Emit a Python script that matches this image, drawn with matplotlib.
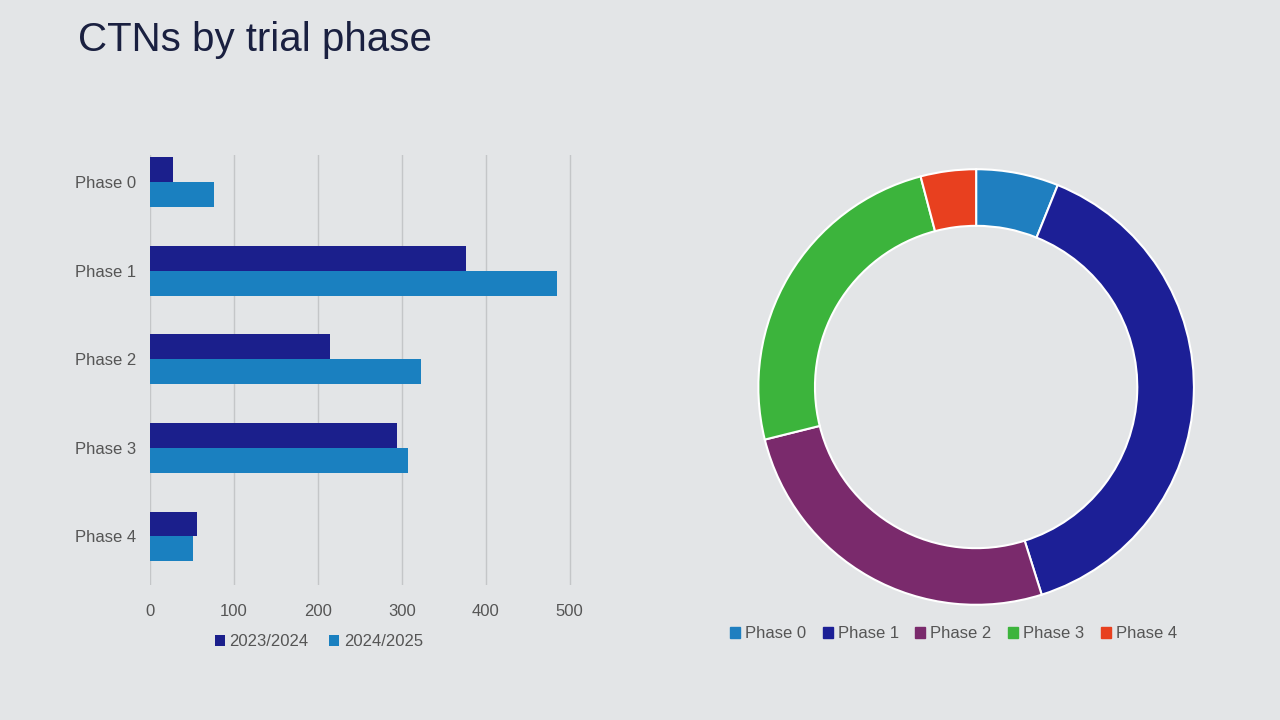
import matplotlib.pyplot as plt
import numpy as np

plt.rcParams["font.family"] = ["Liberation Sans", "DejaVu Sans"]

PHASES = ["Phase 0", "Phase 1", "Phase 2", "Phase 3", "Phase 4"]
CTN_2023_24 = [28, 377, 215, 294, 56]
CTN_2024_25 = [76, 485, 323, 308, 51]
X_TICKS = [0, 100, 200, 300, 400, 500]

BG = "#e3e5e7"
DARK = "#1b1f8c"
LIGHT = "#1a80c0"
DONUT_COLORS = ["#1f7fc0", "#1c1f96", "#7a2a6c", "#3cb43c", "#e8401f"]


def main():
    fig = plt.figure(figsize=(12.8, 7.2), dpi=100, facecolor=BG)
    fig.text(0.061, 0.944, "CTNs by trial phase", fontsize=29, color="#1a2040",
             va="center", ha="left")

    # bar chart
    ax = fig.add_axes([0.117, 0.1875, 0.33, 0.5975])
    ax.set_facecolor(BG)
    y = np.arange(len(PHASES))
    h = 0.28
    ax.barh(y - h / 2, CTN_2023_24, height=h, color=DARK, label="2023/2024")
    ax.barh(y + h / 2, CTN_2024_25, height=h, color=LIGHT, label="2024/2025")
    ax.set_xlim(0, 503)
    ax.set_ylim(4.55, -0.31)
    ax.set_xticks(X_TICKS)
    ax.set_yticks(y)
    ax.set_yticklabels(PHASES)
    ax.xaxis.grid(True, color="#c4c6c8", linewidth=1)
    ax.set_axisbelow(True)
    for s in ax.spines.values():
        s.set_visible(False)
    ax.tick_params(length=0, labelsize=12, colors="#555555", pad=10)
    ax.tick_params(axis="x", pad=14)
    ax.legend(loc="upper center", bbox_to_anchor=(0.4, -0.08), ncol=2, frameon=False,
              fontsize=12, labelcolor="#555555", handlelength=0.6, handleheight=0.6,
              handletextpad=0.3, columnspacing=1.2)

    # donut
    ax2 = fig.add_axes([0.5906, 0.157, 0.344, 0.611])
    ax2.set_facecolor(BG)
    wedges, _ = ax2.pie(CTN_2024_25, colors=DONUT_COLORS, startangle=90, counterclock=False,
                        wedgeprops=dict(width=0.26, edgecolor="white", linewidth=1.5))
    ax2.set_xlim(-1.01, 1.01)
    ax2.set_ylim(-1.01, 1.01)
    ax2.set_aspect("equal")
    handles = [plt.Rectangle((0, 0), 1, 1, color=c) for c in DONUT_COLORS]
    fig.legend(handles, PHASES, loc="center", bbox_to_anchor=(0.745, 0.12), ncol=5,
               frameon=False, fontsize=12, labelcolor="#555555", handlelength=0.6,
               handleheight=0.6, handletextpad=0.3, columnspacing=1.0)

    fig.savefig("out.png", dpi=100, facecolor=BG)


if __name__ == "__main__":
    main()
